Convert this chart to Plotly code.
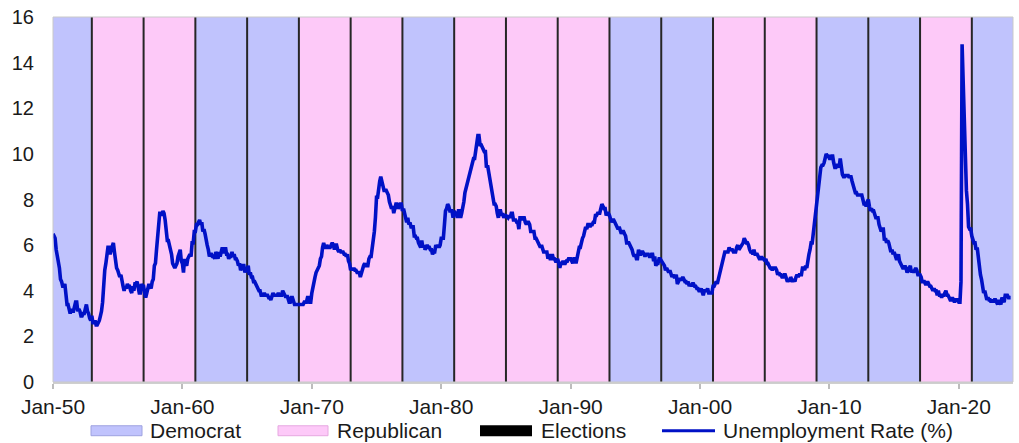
import pandas as pd
import plotly.graph_objects as go

# Monthly US unemployment rate (%), one list per decade
ur_1950s = [
    6.5, 6.4, 6.3, 5.8, 5.5, 5.4, 5.0, 4.5, 4.4, 4.2, 4.2, 4.3,
    3.7, 3.4, 3.4, 3.1, 3.0, 3.2, 3.1, 3.1, 3.3, 3.5, 3.5, 3.1,
    3.2, 3.1, 2.9, 2.9, 3.0, 3.0, 3.2, 3.4, 3.1, 3.0, 2.8, 2.7,
    2.9, 2.6, 2.6, 2.7, 2.5, 2.5, 2.6, 2.7, 2.9, 3.1, 3.5, 4.5,
    4.9, 5.2, 5.7, 5.9, 5.9, 5.6, 5.8, 6.0, 6.1, 5.7, 5.3, 5.0,
    4.9, 4.7, 4.6, 4.7, 4.3, 4.2, 4.0, 4.2, 4.1, 4.3, 4.2, 4.2,
    4.0, 3.9, 4.2, 4.0, 4.3, 4.3, 4.4, 4.1, 3.9, 3.9, 4.3, 4.2,
    4.2, 3.9, 3.7, 3.9, 4.1, 4.3, 4.2, 4.1, 4.4, 4.5, 5.1, 5.2,
    5.8, 6.4, 6.7, 7.4, 7.4, 7.3, 7.5, 7.4, 7.1, 6.7, 6.2, 6.2,
    6.0, 5.9, 5.6, 5.2, 5.1, 5.0, 5.1, 5.2, 5.5, 5.7, 5.8, 5.3,
]
ur_1960s = [
    5.2, 4.8, 5.4, 5.2, 5.1, 5.4, 5.5, 5.6, 5.5, 6.1, 6.1, 6.6,
    6.6, 6.9, 6.9, 7.0, 7.1, 6.9, 7.0, 6.6, 6.7, 6.5, 6.1, 6.0,
    5.8, 5.5, 5.6, 5.6, 5.5, 5.5, 5.4, 5.7, 5.6, 5.4, 5.7, 5.5,
    5.7, 5.9, 5.7, 5.7, 5.9, 5.6, 5.6, 5.4, 5.5, 5.5, 5.7, 5.5,
    5.6, 5.4, 5.4, 5.3, 5.1, 5.2, 4.9, 5.0, 5.1, 5.1, 4.8, 5.0,
    4.9, 5.1, 4.7, 4.8, 4.6, 4.6, 4.4, 4.4, 4.3, 4.2, 4.1, 4.0,
    4.0, 3.8, 3.8, 3.8, 3.9, 3.8, 3.8, 3.8, 3.7, 3.7, 3.6, 3.8,
    3.9, 3.8, 3.8, 3.8, 3.8, 3.9, 3.8, 3.8, 3.8, 4.0, 3.9, 3.8,
    3.7, 3.8, 3.7, 3.5, 3.5, 3.7, 3.7, 3.5, 3.4, 3.4, 3.4, 3.4,
    3.4, 3.4, 3.4, 3.4, 3.4, 3.5, 3.5, 3.5, 3.7, 3.7, 3.5, 3.5,
]
ur_1970s = [
    3.9, 4.2, 4.4, 4.6, 4.8, 4.9, 5.0, 5.1, 5.4, 5.5, 5.9, 6.1,
    5.9, 5.9, 6.0, 5.9, 5.9, 5.9, 6.0, 6.1, 6.0, 5.8, 6.0, 6.0,
    5.8, 5.7, 5.8, 5.7, 5.7, 5.7, 5.6, 5.6, 5.5, 5.6, 5.3, 5.2,
    4.9, 5.0, 4.9, 5.0, 4.9, 4.9, 4.8, 4.8, 4.8, 4.6, 4.8, 4.9,
    5.1, 5.2, 5.1, 5.1, 5.1, 5.4, 5.5, 5.5, 5.9, 6.0, 6.6, 7.2,
    8.1, 8.1, 8.6, 8.8, 9.0, 8.8, 8.6, 8.4, 8.4, 8.4, 8.3, 8.2,
    7.9, 7.7, 7.6, 7.7, 7.4, 7.6, 7.8, 7.8, 7.6, 7.7, 7.8, 7.8,
    7.5, 7.6, 7.4, 7.2, 7.0, 7.2, 6.9, 7.0, 6.8, 6.8, 6.8, 6.4,
    6.4, 6.3, 6.3, 6.1, 6.0, 5.9, 6.2, 5.9, 6.0, 5.8, 5.9, 6.0,
    5.9, 5.9, 5.8, 5.8, 5.6, 5.7, 5.7, 6.0, 5.9, 6.0, 5.9, 6.0,
]
ur_1980s = [
    6.3, 6.3, 6.3, 6.9, 7.5, 7.6, 7.8, 7.7, 7.5, 7.5, 7.5, 7.2,
    7.5, 7.4, 7.4, 7.2, 7.5, 7.5, 7.2, 7.4, 7.6, 7.9, 8.3, 8.5,
    8.6, 8.9, 9.0, 9.3, 9.4, 9.6, 9.8, 9.8, 10.1, 10.4, 10.8, 10.8,
    10.4, 10.4, 10.3, 10.2, 10.1, 10.1, 9.4, 9.5, 9.2, 8.8, 8.5, 8.3,
    8.0, 7.8, 7.8, 7.7, 7.4, 7.2, 7.5, 7.5, 7.3, 7.4, 7.2, 7.3,
    7.3, 7.2, 7.2, 7.3, 7.2, 7.4, 7.4, 7.1, 7.1, 7.1, 7.0, 7.0,
    6.7, 7.2, 7.2, 7.1, 7.2, 7.2, 7.0, 6.9, 7.0, 7.0, 6.9, 6.6,
    6.6, 6.6, 6.6, 6.3, 6.3, 6.2, 6.1, 6.0, 5.9, 6.0, 5.8, 5.7,
    5.7, 5.7, 5.7, 5.4, 5.6, 5.4, 5.4, 5.6, 5.4, 5.4, 5.3, 5.3,
    5.4, 5.2, 5.0, 5.2, 5.2, 5.3, 5.2, 5.2, 5.3, 5.3, 5.4, 5.4,
]
ur_1990s = [
    5.4, 5.3, 5.2, 5.4, 5.4, 5.2, 5.5, 5.7, 5.9, 5.9, 6.2, 6.3,
    6.4, 6.6, 6.8, 6.7, 6.9, 6.9, 6.8, 6.9, 6.9, 7.0, 7.0, 7.3,
    7.3, 7.4, 7.4, 7.4, 7.6, 7.8, 7.7, 7.6, 7.6, 7.3, 7.4, 7.4,
    7.3, 7.1, 7.0, 7.1, 7.1, 7.0, 6.9, 6.8, 6.7, 6.8, 6.6, 6.5,
    6.6, 6.6, 6.5, 6.4, 6.1, 6.1, 6.1, 6.0, 5.9, 5.8, 5.6, 5.5,
    5.6, 5.4, 5.4, 5.8, 5.6, 5.6, 5.7, 5.7, 5.6, 5.5, 5.6, 5.6,
    5.6, 5.5, 5.5, 5.6, 5.6, 5.3, 5.5, 5.1, 5.2, 5.2, 5.4, 5.4,
    5.3, 5.2, 5.2, 5.1, 4.9, 5.0, 4.9, 4.8, 4.9, 4.7, 4.6, 4.7,
    4.6, 4.6, 4.7, 4.3, 4.4, 4.5, 4.5, 4.5, 4.6, 4.5, 4.4, 4.4,
    4.3, 4.4, 4.2, 4.3, 4.2, 4.3, 4.3, 4.2, 4.2, 4.1, 4.1, 4.0,
]
ur_2000s = [
    4.0, 4.1, 4.0, 3.8, 4.0, 4.0, 4.0, 4.1, 3.9, 3.9, 3.9, 3.9,
    4.2, 4.2, 4.3, 4.4, 4.3, 4.5, 4.6, 4.9, 5.0, 5.3, 5.5, 5.7,
    5.7, 5.7, 5.7, 5.9, 5.8, 5.8, 5.8, 5.7, 5.7, 5.7, 5.9, 6.0,
    5.8, 5.9, 5.9, 6.0, 6.1, 6.3, 6.2, 6.1, 6.1, 6.0, 5.8, 5.7,
    5.7, 5.6, 5.8, 5.6, 5.6, 5.6, 5.5, 5.4, 5.4, 5.5, 5.4, 5.4,
    5.3, 5.4, 5.2, 5.2, 5.1, 5.0, 5.0, 4.9, 5.0, 5.0, 5.0, 4.9,
    4.7, 4.8, 4.7, 4.7, 4.6, 4.6, 4.7, 4.7, 4.5, 4.4, 4.5, 4.4,
    4.6, 4.5, 4.4, 4.5, 4.4, 4.6, 4.7, 4.6, 4.7, 4.7, 4.7, 5.0,
    5.0, 4.9, 5.1, 5.0, 5.4, 5.6, 5.8, 6.1, 6.1, 6.5, 6.8, 7.3,
    7.8, 8.3, 8.7, 9.0, 9.4, 9.5, 9.5, 9.6, 9.8, 10.0, 9.9, 9.9,
]
ur_2010s = [
    9.8, 9.8, 9.9, 9.9, 9.6, 9.4, 9.4, 9.5, 9.5, 9.4, 9.8, 9.3,
    9.1, 9.0, 9.0, 9.1, 9.0, 9.1, 9.0, 9.0, 9.0, 8.8, 8.6, 8.5,
    8.3, 8.3, 8.2, 8.2, 8.2, 8.2, 8.2, 8.0, 7.8, 7.8, 7.7, 7.9,
    8.0, 7.7, 7.5, 7.6, 7.5, 7.5, 7.3, 7.2, 7.2, 7.2, 6.9, 6.7,
    6.6, 6.7, 6.7, 6.2, 6.3, 6.1, 6.2, 6.1, 5.9, 5.7, 5.8, 5.6,
    5.7, 5.5, 5.4, 5.4, 5.6, 5.3, 5.2, 5.1, 5.0, 5.0, 5.1, 5.0,
    4.8, 4.9, 5.0, 5.1, 4.8, 4.9, 4.8, 4.9, 5.0, 4.9, 4.7, 4.7,
    4.7, 4.6, 4.4, 4.4, 4.4, 4.3, 4.3, 4.4, 4.3, 4.2, 4.2, 4.1,
    4.0, 4.1, 4.0, 4.0, 3.8, 4.0, 3.8, 3.8, 3.7, 3.8, 3.8, 3.9,
    4.0, 3.8, 3.8, 3.7, 3.6, 3.6, 3.7, 3.6, 3.5, 3.6, 3.6, 3.6,
]
ur_2020s = [
    3.5, 3.5, 4.4, 14.8, 13.2, 11.0, 10.2, 8.4, 7.8, 6.8, 6.7, 6.7,
    6.4, 6.2, 6.1, 6.1, 5.8, 5.9, 5.4, 5.1, 4.7, 4.5, 4.2, 3.9,
    4.0, 3.8, 3.6, 3.7, 3.6, 3.6, 3.5, 3.6, 3.5, 3.6, 3.6, 3.5,
    3.4, 3.6, 3.5, 3.4, 3.7, 3.6, 3.5, 3.8, 3.8, 3.8, 3.7, 3.7,
    3.7,
]

# Presidential terms: start year of each term block and the governing party
term_starts = [1950, 1953, 1961, 1969, 1977, 1981, 1993, 2001, 2009, 2017, 2021]
term_party = ["Democrat", "Republican", "Democrat", "Republican", "Democrat",
              "Republican", "Democrat", "Republican", "Democrat", "Republican",
              "Democrat"]
# Election (inauguration) markers
election_years = [1953, 1957, 1961, 1965, 1969, 1973, 1977, 1981, 1985, 1989,
                  1993, 1997, 2001, 2005, 2009, 2013, 2017, 2021]

tick_years = [1950, 1960, 1970, 1980, 1990, 2000, 2010, 2020]
tick_labels = ["Jan-50", "Jan-60", "Jan-70", "Jan-80", "Jan-90", "Jan-00",
               "Jan-10", "Jan-20"]
y_ticks = [0, 2, 4, 6, 8, 10, 12, 14, 16]

rate = ur_1950s + ur_1960s + ur_1970s + ur_1980s + ur_1990s + ur_2000s + ur_2010s + ur_2020s
dates = pd.date_range("1950-01-01", periods=len(rate), freq="MS")

X_START = "1950-01-01"
X_END = "2024-03-08"

COLORS = {"Democrat": "#C0C3FD", "Republican": "#FDC9F8"}
EDGE = {"Democrat": "#9EA2E0", "Republican": "#E6A8E0"}
LINE_BLUE = "#0011C6"
FONT = "Liberation Sans, Arial, sans-serif"

W, H = 1019, 443
ML, MR, MT, MB = 53, 6, 15, 61
PW, PH = W - ML - MR, H - MT - MB

fig = go.Figure()

fig.add_trace(go.Scatter(
    x=dates, y=rate, mode="lines",
    line=dict(color=LINE_BLUE, width=3.6),
    name="Unemployment Rate (%)", showlegend=False,
    hovertemplate="%{x|%b-%y}: %{y:.1f}%<extra></extra>",
))

# Party shading per term
ends = term_starts[1:] + [None]
for start, end, party in zip(term_starts, ends, term_party):
    x0 = f"{start}-01-01"
    x1 = f"{end}-01-01" if end else X_END
    fig.add_vrect(x0=x0, x1=x1, fillcolor=COLORS[party], opacity=1,
                  line_width=0, layer="below")

# Election lines
for yr in election_years:
    fig.add_vline(x=f"{yr}-01-01", line=dict(color="#262626", width=2),
                  layer="below")

# Plot-area frame
fig.add_shape(type="rect", xref="paper", yref="paper", x0=0, x1=1, y0=0, y1=1,
              line=dict(color="#C9C9C9", width=1), fillcolor="rgba(0,0,0,0)")


def px_x(px):
    return (px - ML) / PW


def px_y(py):
    return (H - MB - py) / PH


# Legend row drawn beneath the axis
legend_y = 431
sw_h = 10
items = [
    ("Democrat", 91, 142, 148, "box"),
    ("Republican", 278, 328, 335, "box"),
    ("Elections", 480, 532, 539, "black"),
    ("Unemployment Rate (%)", 662, 715, 721, "line"),
]
for label, sx0, sx1, tx, kind in items:
    if kind == "box":
        fig.add_shape(type="rect", xref="paper", yref="paper",
                      x0=px_x(sx0), x1=px_x(sx1),
                      y0=px_y(legend_y + sw_h / 2), y1=px_y(legend_y - sw_h / 2),
                      fillcolor=COLORS[label], line=dict(color=EDGE[label], width=1))
    elif kind == "black":
        fig.add_shape(type="rect", xref="paper", yref="paper",
                      x0=px_x(sx0), x1=px_x(sx1),
                      y0=px_y(legend_y + 5.5), y1=px_y(legend_y - 5.5),
                      fillcolor="#000000", line=dict(width=0))
    else:
        fig.add_shape(type="line", xref="paper", yref="paper",
                      x0=px_x(sx0), x1=px_x(sx1),
                      y0=px_y(legend_y), y1=px_y(legend_y),
                      line=dict(color=LINE_BLUE, width=3))
    fig.add_annotation(text=label, xref="paper", yref="paper",
                       x=px_x(tx), y=px_y(legend_y), xanchor="left",
                       yanchor="middle", showarrow=False,
                       font=dict(family=FONT, size=21, color="#1A1A1A"))

fig.update_layout(
    width=W, height=H,
    margin=dict(l=ML, r=MR, t=MT, b=MB, pad=0),
    paper_bgcolor="white", plot_bgcolor="white",
    showlegend=False,
    font=dict(family=FONT, color="#1A1A1A"),
)

fig.update_xaxes(
    type="date", range=[X_START, X_END],
    tickmode="array",
    tickvals=[f"{y}-01-01" for y in tick_years],
    ticktext=tick_labels,
    ticks="outside", ticklen=5, tickwidth=1.5, tickcolor="#BDBDBD",
    showline=True, linecolor="#CFCFCF", linewidth=2,
    showgrid=False, zeroline=False,
    tickfont=dict(family=FONT, size=21, color="#1A1A1A"),
)
fig.update_yaxes(
    range=[0, 16], tickmode="array", tickvals=y_ticks,
    ticks="outside", ticklen=14, tickcolor="rgba(0,0,0,0)",
    showline=False, showgrid=False, zeroline=False,
    tickfont=dict(family=FONT, size=20, color="#1A1A1A"),
)

fig.write_html("out.html")
